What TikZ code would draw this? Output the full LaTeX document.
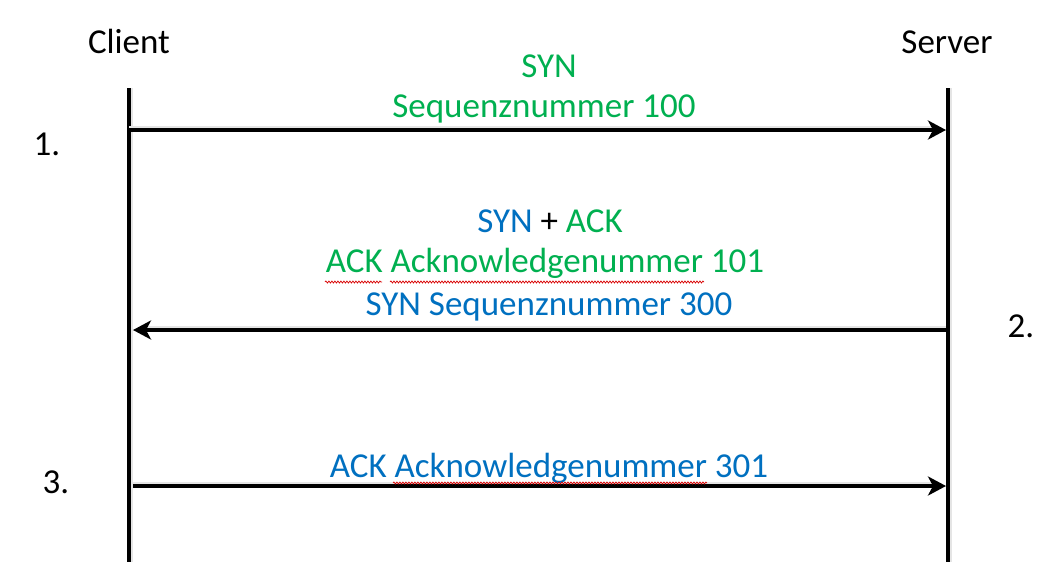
\documentclass[tikz,border=0pt]{standalone}
\usepackage{fontspec}
\setmainfont{Carlito}
\usetikzlibrary{arrows.meta,decorations.pathmorphing}
\definecolor{offgreen}{RGB}{0,176,80}
\definecolor{offblue}{RGB}{0,112,192}
\begin{document}
\begin{tikzpicture}[x=1pt,y=-1pt,
  lbl/.style={anchor=base,inner sep=0pt,font=\fontsize{35}{42}\selectfont},
  lifeline/.style={line width=4pt},
  msg/.style={line width=3.5pt,-{Stealth[length=18pt,width=19pt,inset=5pt]}},
  shadowline/.style={line width=2.5pt,black!10},
  squiggle/.style={red!85!black,line width=0.7pt,decorate,decoration={snake,amplitude=1pt,segment length=3pt}}]
\useasboundingbox (0,0) rectangle (1060,587);
\fill[white] (0,0) rectangle (1060,587);
% lifelines
\coordinate (ctop) at (129,88);
\coordinate (cbot) at (129,562);
\coordinate (stop) at (948,88);
\coordinate (sbot) at (948,562);
\draw[shadowline] ([xshift=2.5pt]ctop) -- ([xshift=2.5pt]cbot);
\draw[shadowline] ([xshift=2.5pt]stop) -- ([xshift=2.5pt]sbot);
\draw[lifeline] (ctop) -- (cbot);
\draw[lifeline] (stop) -- (sbot);
% labels
\node[lbl] (client) at (129,53) {Client};
\node[lbl] (server) at (947,53) {Server};
\node[lbl] (n1) at (47,155) {1.};
\node[lbl] (n2) at (1021,337) {2.};
\node[lbl] (n3) at (56,493) {3.};
% message 1
\coordinate (m1a) at (129,130);
\coordinate (m1b) at (946,130);
\draw[shadowline] ([yshift=3pt]m1a) -- ([yshift=3pt,xshift=-10pt]m1b);
\draw[msg] (m1a) -- (m1b);
\node[lbl,text=offgreen] (syn1) at (549,77) {SYN};
\node[lbl,text=offgreen] (seq1) at (544,117) {Sequenznummer 100};
% message 2
\coordinate (m2a) at (946,330);
\coordinate (m2b) at (133,330);
\draw[shadowline] ([yshift=3pt]m2a) -- ([yshift=3pt,xshift=10pt]m2b);
\draw[msg] (m2a) -- (m2b);
\node[lbl] (synack) at (550,232) {\textcolor{offblue}{SYN} + \textcolor{offgreen}{ACK}};
\node[lbl,text=offgreen] (ack1) at (545,272) {ACK Acknowledgenummer 101};
\node[lbl,text=offblue] (seq2) at (549,315) {SYN Sequenznummer 300};
% message 3
\coordinate (m3a) at (133,486);
\coordinate (m3b) at (946,486);
\draw[shadowline] ([yshift=3pt]m3a) -- ([yshift=3pt,xshift=-10pt]m3b);
\draw[msg] (m3a) -- (m3b);
\node[lbl,text=offblue] (ack2) at (549,477) {ACK Acknowledgenummer 301};
% spell-check squiggles
\coordinate (q1a) at (325,282);
\coordinate (q1b) at (382,282);
\coordinate (q2a) at (390,282);
\coordinate (q2b) at (704,282);
\coordinate (q3a) at (393,483);
\coordinate (q3b) at (707,483);
\draw[squiggle] (q1a) -- (q1b);
\draw[squiggle] (q2a) -- (q2b);
\draw[squiggle] (q3a) -- (q3b);
\end{tikzpicture}
\end{document}
